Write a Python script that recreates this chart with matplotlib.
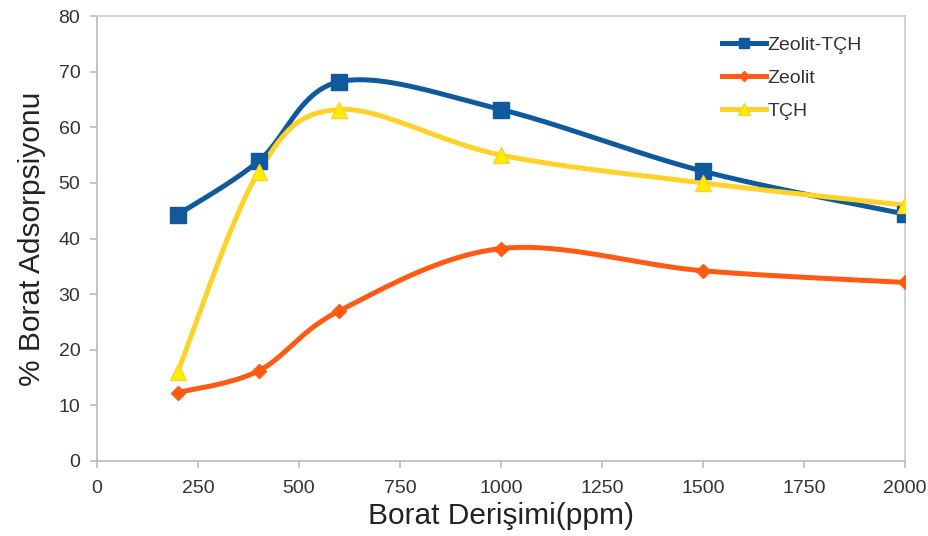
import numpy as np
import matplotlib
matplotlib.use("Agg")
import matplotlib.pyplot as plt
from matplotlib.lines import Line2D

# Concentration (ppm) and adsorption (%) values
concentration = [200, 400, 600, 1000, 1500, 2000]
zeolit_tch = [44.3, 53.9, 68.2, 63.2, 52.1, 44.4]
zeolit = [12.3, 16.2, 27.0, 38.2, 34.2, 32.1]
tch = [16.0, 52.0, 63.2, 55.0, 50.0, 46.0]

series_names = ["Zeolit-TÇH", "Zeolit", "TÇH"]
x_ticks = [0, 250, 500, 750, 1000, 1250, 1500, 1750, 2000]
y_ticks = [0, 10, 20, 30, 40, 50, 60, 70, 80]

plt.rcParams["font.family"] = ["Liberation Sans", "DejaVu Sans"]


def smooth_curve(x, y, n=40):
    """Cardinal-spline smoothing through every point (spreadsheet style)."""
    x = np.asarray(x, float)
    y = np.asarray(y, float)
    pts = np.column_stack([x, y])
    out = []
    for i in range(len(pts) - 1):
        p0 = pts[i - 1] if i > 0 else pts[i]
        p1 = pts[i]
        p2 = pts[i + 1]
        p3 = pts[i + 2] if i + 2 < len(pts) else pts[i + 1]
        c1 = p1 + (p2 - p0) / 6.0
        c2 = p2 - (p3 - p1) / 6.0
        t = np.linspace(0, 1, n)[:, None]
        seg = ((1 - t) ** 3) * p1 + 3 * ((1 - t) ** 2) * t * c1 + 3 * (1 - t) * t ** 2 * c2 + t ** 3 * p2
        out.append(seg if i == 0 else seg[1:])
    s = np.vstack(out)
    return s[:, 0], s[:, 1]


fig = plt.figure(figsize=(9.29, 5.36), dpi=100)
ax = fig.add_axes([0.1044, 0.140, 0.8698, 0.830])

styles = [
    dict(data=zeolit_tch, color="#0E5A9C", marker="s", ms=11, mfc="#0E5A9C", mec="#0E5A9C"),
    dict(data=zeolit, color="#FF5A14", marker="D", ms=7, mfc="#FF5A14", mec="#FF5A14"),
    dict(data=tch, color="#FFD22A", marker="^", ms=12, mfc="#FFEE00", mec="#FFD22A"),
]

handles = []
for name, st in zip(series_names, styles):
    sx, sy = smooth_curve(concentration, st["data"])
    ax.plot(sx, sy, color=st["color"], lw=3.6, solid_capstyle="round", zorder=2)
    ax.plot(concentration, st["data"], ls="none", marker=st["marker"], ms=st["ms"],
            mfc=st["mfc"], mec=st["mec"], mew=1, zorder=3)
    handles.append(Line2D([], [], color=st["color"], lw=3.6, marker=st["marker"],
                          ms=st["ms"] * 0.7, mfc=st["mfc"], mec=st["mec"], label=name))

ax.set_xlim(0, 2000)
ax.set_ylim(0, 80)
ax.set_xticks(x_ticks)
ax.set_yticks(y_ticks)
ax.tick_params(axis="both", colors="#BBBBBB", labelcolor="#333333", labelsize=14,
               length=5, width=1.2, direction="out")
ax.tick_params(axis="x", pad=9)
ax.tick_params(axis="y", pad=7)
for sp in ax.spines.values():
    sp.set_color("#CCCCCC")
    sp.set_linewidth(1.2)
ax.spines["left"].set_color("#BBBBBB")
ax.spines["bottom"].set_color("#BBBBBB")

ax.set_xlabel("Borat Derişimi(ppm)", fontsize=21.5, color="#222222", labelpad=3)
ax.set_ylabel("% Borat Adsorpsiyonu", fontsize=21.5, color="#222222", labelpad=9)

leg = ax.legend(handles=handles, loc="upper right", bbox_to_anchor=(0.968, 0.994),
                frameon=False, handlelength=2.3, handletextpad=0.05,
                labelspacing=0.8, prop={"size": 14})
for t in leg.get_texts():
    t.set_color("#333333")

fig.savefig("out.png", dpi=100, facecolor="white")
